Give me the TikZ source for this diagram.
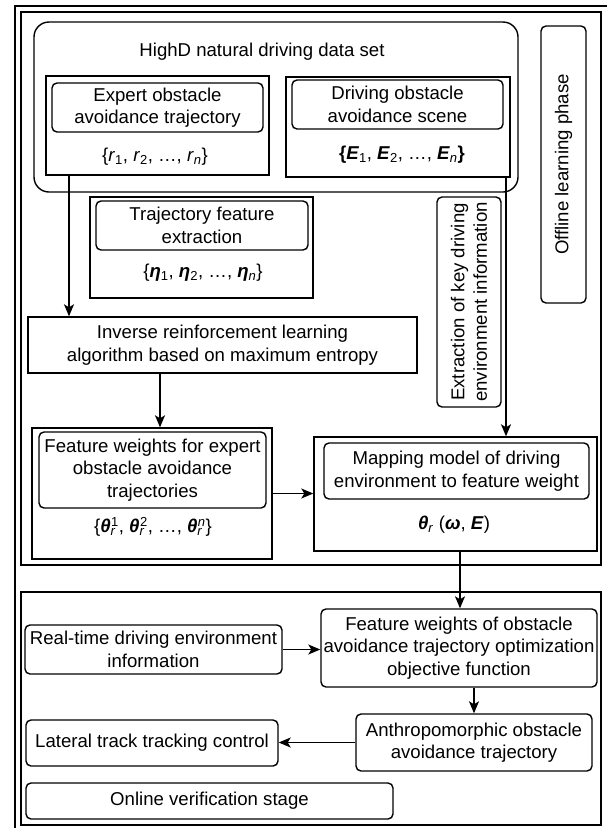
\documentclass[tikz,border=0pt]{standalone}
\usepackage{fontspec}
\setmainfont{Liberation Sans}
\usetikzlibrary{arrows.meta}
\newcommand\subsupr[2]{\textsubscript{\rlap{#1}}\textsuperscript{#2}}
\newcommand\bi[1]{\textbf{\textit{#1}}}
\tikzset{
  every path/.style={line width=1.4pt},
  sqbox/.style={draw, rectangle, inner sep=0pt},
  rndbox/.style={draw, rectangle, rounded corners=5pt, inner sep=0pt, align=center},
  txt/.style={inner sep=0pt, align=center},
  arr/.style={-{Stealth[length=12pt,width=10pt,inset=3pt]}},
}
\begin{document}
\begin{tikzpicture}[x=1pt,y=-1pt,font=\fontsize{18.6}{22.5}\selectfont]
\useasboundingbox (0,0) rectangle (606,828);
% outer frame (cut off at right and bottom)
\draw (15,830) -- (15,6) -- (608,6);
% phase frames
\node[sqbox, minimum width=580pt, minimum height=553pt] (offline) at (311,288.5) {};
\node[sqbox, minimum width=580pt, minimum height=233pt] (online) at (311,708.5) {};
% HighD data set
\node[draw, rectangle, rounded corners=15pt, inner sep=0pt, minimum width=484pt, minimum height=170pt] (highd) at (276,107) {};
\node[txt] (hdtitle) at (262,52) {HighD natural driving data set};
% expert
\node[sqbox, minimum width=223pt, minimum height=99pt] (expo) at (157.5,125.5) {};
\node[rndbox, minimum width=211pt, minimum height=49pt] (expi) at (157.5,107.5) {Expert obstacle\\avoidance trajectory};
\node[txt] (rset) at (155,157) {\{\textit{r}\textsubscript{1}, \textit{r}\textsubscript{2}, …, \textit{r}\textsubscript{\textit{n}}\}};
% driving scene
\node[sqbox, minimum width=224pt, minimum height=100pt] (drvo) at (398,127) {};
\node[rndbox, minimum width=211pt, minimum height=49pt] (drvi) at (397.5,104.5) {Driving obstacle\\avoidance scene};
\node[txt] (eset) at (402,155) {\textbf{\{}\bi{E}\textsubscript{1}, \bi{E}\textsubscript{2}, …, \bi{E}\textsubscript{\textit{n}}\textbf{\}}};
% offline label
\node[rndbox, minimum width=45pt, minimum height=277pt] (offlab) at (563.5,164.5) {};
\node[txt, rotate=90] (offtxt) at (offlab.center) {Offline learning phase};
% trajectory feature
\node[sqbox, minimum width=223pt, minimum height=101pt] (trfo) at (201.5,247.5) {};
\node[rndbox, minimum width=212pt, minimum height=49pt] (trfi) at (202,225.5) {Trajectory feature\\extraction};
\node[txt] (etaset) at (203,273) {\{\bi{η}\textsubscript{1}, \bi{η}\textsubscript{2}, …, \bi{η}\textsubscript{\textit{n}}\}};
% extraction of key info
\node[rndbox, minimum width=64pt, minimum height=210pt] (extr) at (469,302) {};
\node[txt, rotate=90] (extrtxt) at (extr.center) {Extraction of key driving\\environment information};
% IRL
\node[sqbox, align=center, minimum width=389pt, minimum height=56pt] (irl) at (222.5,345) {Inverse reinforcement learning\\algorithm based on maximum entropy};
% feature weights expert
\node[sqbox, minimum width=240pt, minimum height=131pt] (fwo) at (152,493.5) {};
\node[rndbox, minimum width=227pt, minimum height=76pt] (fwi) at (152.5,470) {Feature weights for expert\\obstacle avoidance\\trajectories};
\node[txt] (thset) at (153,527) {\{\bi{θ}\subsupr{\textit{r}}{1}, \bi{θ}\subsupr{\textit{r}}{2}, …, \bi{θ}\subsupr{\textit{r}}{\textit{n}}\}};
% mapping model
\node[sqbox, minimum width=283pt, minimum height=114pt] (mapo) at (455.5,494) {};
\node[rndbox, minimum width=265pt, minimum height=56pt] (mapi) at (456.5,471) {Mapping model of driving\\environment to feature weight};
\node[txt] (thfun) at (454,525) {\bi{θ}\textsubscript{\textit{r}} (\bi{ω}, \bi{E})};
% online stage
\node[rndbox, minimum width=276pt, minimum height=78pt] (fwobj) at (459,648) {Feature weights of obstacle\\avoidance trajectory optimization\\objective function};
\node[rndbox, minimum width=257pt, minimum height=49pt] (rt) at (153.5,649.5) {Real-time driving environment\\information};
\node[rndbox, minimum width=236pt, minimum height=57pt] (anth) at (474,742.5) {Anthropomorphic obstacle\\avoidance trajectory};
\node[rndbox, minimum width=252pt, minimum height=46pt] (lat) at (152,743) {Lateral track tracking control};
\node[rndbox, minimum width=367pt, minimum height=36pt] (onv) at (209.5,801) {Online verification stage};
% connector columns
\coordinate (c1) at (69,0);
\coordinate (c2) at (506,0);
\coordinate (c3) at (160,0);
\coordinate (c4) at (460,0);
\coordinate (c5) at (474,0);
% connectors
\draw[arr] (expo.south -| c1) -- (irl.north -| c1);
\draw[arr] (drvo.south -| c2) -- (mapo.north -| c2);
\draw[arr] (irl.south -| c3) -- (fwo.north -| c3);
\draw[arr] (fwo.east) -- (fwo.east -| mapo.west);
\draw[arr] (mapo.south -| c4) -- (fwobj.north -| c4);
\draw[arr] (rt.east) -- (rt.east -| fwobj.west);
\draw[arr] (fwobj.south -| c5) -- (anth.north -| c5);
\draw[arr] (anth.west) -- (anth.west -| lat.east);
\end{tikzpicture}
\end{document}
